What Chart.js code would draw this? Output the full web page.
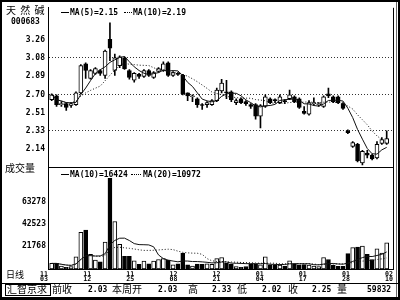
<!DOCTYPE html>
<html><head><meta charset="utf-8">
<script src="https://cdn.jsdelivr.net/npm/chart.js@4/dist/chart.umd.min.js"></script>
<style>
html,body{margin:0;padding:0;background:#fff;}
#wrap{position:relative;width:400px;height:300px;overflow:hidden;background:#fff;}
canvas{position:absolute;left:0;top:0;}
.t{position:absolute;white-space:pre;color:#000;line-height:1;}
.mono{font-family:"DejaVu Sans Mono",monospace;font-size:8px;font-weight:bold;}
.cjk{font-family:"Noto Sans CJK SC",sans-serif;font-size:10px;}
.ln{position:absolute;background:#000;}
.dot{position:absolute;height:0;border-top:1px dotted #000;}
</style></head><body>
<div id="wrap">
<canvas id="c" width="400" height="300"></canvas>
<div class="ln" style="left:0;top:0;width:400px;height:2px"></div>
<div class="ln" style="left:0;top:0;width:2px;height:300px"></div>
<div class="ln" style="left:0;top:297px;width:400px;height:3px"></div>
<div class="ln" style="left:398px;top:0;width:2px;height:300px"></div>
<div class="ln" style="left:396px;top:2px;width:1px;height:295px;background:#666"></div>
<div class="ln" style="left:2px;top:283px;width:396px;height:1px"></div>
<div style="position:absolute;left:5px;top:284px;width:46px;height:12px;border:1px solid #000;box-sizing:border-box"></div>

<div class="t cjk" style="left:6px;top:5px;letter-spacing:1px">天 然 碱</div>
<div class="t mono" style="left:11px;top:18px">000683</div>
<div class="ln" style="left:61px;top:12px;width:8px;height:1px"></div>
<div class="t mono" style="left:70px;top:9px">MA(5)=2.15</div>
<div class="dot" style="left:124px;top:12px;width:8px"></div>
<div class="t mono" style="left:133px;top:9px">MA(10)=2.19</div>

<div class="t cjk" style="left:5px;top:163px">成交量</div>
<div class="ln" style="left:61px;top:174px;width:8px;height:1px"></div>
<div class="t mono" style="left:70px;top:171px">MA(10)=16424</div>
<div class="dot" style="left:131px;top:174px;width:10px"></div>
<div class="t mono" style="left:143px;top:171px">MA(20)=10972</div>

<div class="t cjk" style="left:6px;top:270px;font-size:9px">日线</div>

<div class="t cjk" style="left:7px;top:284px">汇智京求</div>
<div class="t cjk" style="left:52px;top:284px">前收</div>
<div class="t mono" style="left:88px;top:286px">2.03</div>
<div class="t cjk" style="left:112px;top:284px">本周开</div>
<div class="t mono" style="left:158px;top:286px">2.03</div>
<div class="t cjk" style="left:188px;top:284px">高</div>
<div class="t mono" style="left:212px;top:286px">2.33</div>
<div class="t cjk" style="left:237px;top:284px">低</div>
<div class="t mono" style="left:262px;top:286px">2.02</div>
<div class="t cjk" style="left:288px;top:284px">收</div>
<div class="t mono" style="left:312px;top:286px">2.25</div>
<div class="t cjk" style="left:337px;top:284px">量</div>
<div class="t mono" style="left:367px;top:286px">59832</div>
</div>
<script>
const open  = [2.65,2.69,2.60,2.61,2.59,2.60,2.72,3.02,2.87,2.92,2.95,2.90,3.27,2.95,3.00,3.08,2.95,2.85,2.91,2.89,
               2.95,2.88,2.94,2.95,3.03,2.90,2.92,2.90,2.72,2.68,2.66,2.60,2.60,2.60,2.64,2.74,2.73,2.73,2.62,2.66,
               2.63,2.60,2.60,2.48,2.58,2.66,2.65,2.62,2.64,2.66,2.68,2.66,2.53,2.50,2.61,2.60,2.58,2.71,2.68,2.68,
               2.61,2.33,2.17,2.19,2.00,2.10,2.08,2.05,2.20,2.20];
const high  = [2.71,2.70,2.63,2.62,2.62,2.73,3.01,3.03,2.96,2.98,2.96,3.16,3.44,3.12,3.10,3.09,2.96,2.93,2.92,2.96,
               2.96,2.94,2.98,3.04,3.04,2.94,2.93,2.91,2.72,2.70,2.67,2.61,2.63,2.65,2.77,2.86,2.85,2.74,2.66,2.67,
               2.64,2.61,2.61,2.60,2.70,2.67,2.66,2.70,2.65,2.75,2.69,2.67,2.58,2.64,2.67,2.62,2.69,2.77,2.69,2.69,
               2.62,2.34,2.22,2.20,2.13,2.13,2.09,2.22,2.26,2.33];
const low   = [2.64,2.58,2.58,2.54,2.57,2.59,2.71,2.87,2.86,2.91,2.90,2.87,3.05,2.90,2.98,2.96,2.86,2.83,2.87,2.88,
               2.89,2.87,2.93,2.94,2.89,2.89,2.90,2.70,2.64,2.63,2.57,2.55,2.57,2.59,2.63,2.72,2.66,2.63,2.60,2.61,
               2.59,2.56,2.45,2.36,2.57,2.61,2.62,2.61,2.61,2.65,2.62,2.56,2.50,2.49,2.59,2.58,2.57,2.67,2.62,2.61,
               2.55,2.30,2.16,2.01,1.98,2.05,2.03,2.04,2.19,2.19];
const close = [2.70,2.60,2.61,2.57,2.61,2.72,3.00,2.95,2.95,2.97,2.92,3.15,3.18,3.08,3.09,2.97,2.88,2.92,2.89,2.95,
               2.90,2.93,2.97,3.02,2.90,2.93,2.91,2.71,2.69,2.69,2.60,2.59,2.62,2.64,2.75,2.82,2.72,2.65,2.64,2.62,
               2.61,2.58,2.48,2.59,2.68,2.62,2.64,2.68,2.63,2.70,2.63,2.57,2.51,2.62,2.62,2.60,2.68,2.69,2.63,2.62,
               2.56,2.31,2.21,2.02,2.12,2.08,2.04,2.19,2.24,2.25];
const volume = [5300,5300,2800,1600,2200,11500,34700,36900,14000,8400,6800,25400,85900,45000,23300,12100,12100,7700,4400,7400,
               5000,7400,9000,9900,8400,4000,5000,15200,4000,2800,4700,4400,5000,4400,9900,10900,5300,4700,2200,1600,
               2200,4700,4700,4000,11500,4000,3700,3700,2800,7700,4400,4000,4200,3700,2800,2200,10900,9000,3700,2500,
               2500,14600,20200,20800,21700,14000,9000,19200,15000,24800];
const priceTicks = [3.26,3.08,2.89,2.70,2.51,2.33,2.14];
const priceGridValues = [3.08,2.70,2.33];
const volumeTicks = [21768,42523,63278];
const dateLabels = [['11','03'],['11','12'],['11','25'],['12','08'],['12','21'],['01','04'],['01','17'],['01','28'],['02','10']];

function sma(arr, n){
  return arr.map((_, i) => {
    const s = arr.slice(Math.max(0, i - n + 1), i + 1);
    return s.reduce((a, b) => a + b, 0) / s.length;
  });
}
const ma5 = sma(close, 5), ma10 = sma(close, 10);
const vma10 = sma(volume, 10), vma20 = sma(volume, 20);
const pts = arr => arr.map((v, i) => ({x: i, y: v}));
const up = i => close[i] >= open[i];

const FONT = '"DejaVu Sans Mono", monospace';
const X_MIN = -0.76, X_MAX = 70.3;

const framePlugin = {
  id: 'frame',
  afterDraw(chart){
    const {ctx, chartArea: a, scales} = chart;
    ctx.save();
    ctx.strokeStyle = '#000';
    ctx.lineWidth = 1;
    ctx.beginPath();
    const sy = Math.round(scales.y.bottom) + 0.5;
    ctx.moveTo(a.left, sy); ctx.lineTo(a.right, sy);
    const rx = Math.round(a.right) + 0.5;
    ctx.moveTo(rx, a.top); ctx.lineTo(rx, a.bottom);
    ctx.stroke();
    ctx.restore();
  }
};

new Chart(document.getElementById('c'), {
  type: 'bar',
  data: {
    datasets: [
      {type:'line', data: pts(ma5), yAxisID:'y', borderColor:'#111', borderWidth:1, pointRadius:0, tension:0, order:-2},
      {type:'line', data: pts(ma10), yAxisID:'y', borderColor:'#111', borderWidth:1, borderDash:[1,2], pointRadius:0, tension:0, order:-1},
      {type:'bar', data: open.map((o, i) => ({x: i, y: [o, close[i]]})), yAxisID:'y', grouped:false,
       barThickness:4, minBarLength:1, borderSkipped:false, borderWidth:1, borderColor:'#000',
       backgroundColor: c => up(c.dataIndex) ? '#fff' : '#000', order:0},
      {type:'bar', data: low.map((l, i) => ({x: i, y: [l, high[i]]})), yAxisID:'y', grouped:false,
       barThickness:1, borderWidth:0, backgroundColor:'#000', order:1},
      {type:'bar', data: pts(volume), yAxisID:'v', grouped:false,
       barThickness:4, borderSkipped:false, borderWidth:1, borderColor:'#000',
       backgroundColor: c => up(c.dataIndex) ? '#fff' : '#000', order:0},
      {type:'line', data: pts(vma10), yAxisID:'v', borderColor:'#111', borderWidth:1, pointRadius:0, tension:0, order:-2},
      {type:'line', data: pts(vma20), yAxisID:'v', borderColor:'#111', borderWidth:1, borderDash:[1,2], pointRadius:0, tension:0, order:-1}
    ]
  },
  options: {
    responsive:false, animation:false, devicePixelRatio:1, events:[],
    layout:{padding:{top:3, right:7, left:0, bottom:0}},
    plugins:{legend:{display:false}, tooltip:{enabled:false}},
    scales: {
      x: {
        type:'linear', min:X_MIN, max:X_MAX, position:'bottom', offset:false,
        grid:{display:false, drawTicks:false, offset:false},
        border:{display:true, color:'#000', width:1},
        afterBuildTicks: s => { s.ticks = dateLabels.map((_, k) => ({value: X_MIN + k * (X_MAX - X_MIN) / (dateLabels.length - 1)})); },
        afterFit: s => { s.height = 31; },
        ticks:{autoSkip:false, maxRotation:0, minRotation:0, align:'end', padding:2, color:'#000',
               font:{family:FONT, size:6.6, weight:'bold', lineHeight:0.86},
               callback:(v, i) => dateLabels[i]}
      },
      y: {
        type:'linear', position:'left', stack:'main', stackWeight:162, weight:2,
        min:1.959, max:3.595,
        afterBuildTicks: s => { s.ticks = priceTicks.map(v => ({value: v})); },
        afterFit: s => { s.width = 48; },
        grid:{drawTicks:false, lineWidth:1,
              color: c => (c.tick && priceGridValues.includes(c.tick.value)) ? '#333' : 'rgba(0,0,0,0)'},
        border:{display:true, color:'#000', width:1, dash:[1,2]},
        ticks:{padding:3, color:'#000', font:{family:FONT, size:8, weight:'bold'},
               callback: v => v.toFixed(2)}
      },
      v: {
        type:'linear', position:'left', stack:'main', stackWeight:104, weight:1,
        min:0, max:96800,
        afterBuildTicks: s => { s.ticks = volumeTicks.map(v => ({value: v})); },
        afterFit: s => { s.width = 48; },
        grid:{display:false, drawTicks:false},
        border:{display:true, color:'#000', width:1},
        ticks:{padding:2, color:'#000', font:{family:FONT, size:8, weight:'bold'},
               callback: v => String(v)}
      }
    }
  },
  plugins:[framePlugin]
});
</script>
</body></html>
